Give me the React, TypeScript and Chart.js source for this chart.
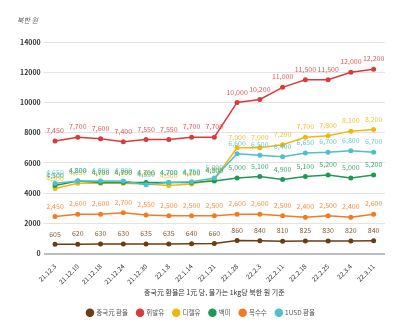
import React, { useEffect, useRef } from "react";
import { Chart, registerables } from "chart.js";

Chart.register(...registerables);

const categories = ["21.12.3", "21.12.10", "21.12.18", "21.12.24", "21.12.30", "22.1.8", "22.1.14", "22.1.21", "22.1.28", "22.2.3", "22.2.11", "22.2.18", "22.2.25", "22.3.4", "22.3.11"];
const yuanRate = [605, 620, 630, 630, 635, 635, 640, 660, 860, 840, 810, 825, 830, 820, 840];
const gasoline = [7450, 7700, 7600, 7400, 7550, 7550, 7700, 7700, 10000, 10200, 11000, 11500, 11500, 12000, 12200];
const diesel = [4300, 4650, 4650, 4650, 4600, 4500, 4600, 4900, 7000, 7000, 7200, 7700, 7800, 8100, 8200];
const rice = [4500, 4800, 4700, 4700, 4700, 4700, 4700, 4800, 5000, 5100, 4900, 5100, 5200, 5000, 5200];
const corn = [2450, 2600, 2600, 2700, 2550, 2500, 2500, 2500, 2600, 2600, 2500, 2400, 2500, 2400, 2600];
const usdRate = [4650, 4800, 4800, 4800, 4550, 4700, 4750, 5000, 6600, 6500, 6400, 6650, 6700, 6800, 6700];
const yTicks = [0, 2000, 4000, 6000, 8000, 10000, 12000, 14000];

const FONT = "'Noto Sans CJK KR', 'Noto Sans', sans-serif";

const seriesDefs = [
  { label: "중국元 환율", data: yuanRate, color: "#6b3d12" },
  { label: "휘발유", data: gasoline, color: "#d93a3a" },
  { label: "디젤유", data: diesel, color: "#f2b70f" },
  { label: "백미", data: rice, color: "#1e9a55" },
  { label: "옥수수", data: corn, color: "#f47b20" },
  { label: "1USD 환율", data: usdRate, color: "#4cc0cc" },
];

const labelPlugin = {
  id: "valueLabels",
  afterDatasetsDraw(chart: any) {
    const ctx = chart.ctx;
    ctx.save();
    ctx.font = `7px ${FONT}`;
    ctx.textAlign = "center";
    ctx.textBaseline = "bottom";
    chart.data.datasets.forEach((ds: any, i: number) => {
      const meta = chart.getDatasetMeta(i);
      if (meta.hidden) return;
      ctx.fillStyle = ds.borderColor;
      ctx.globalAlpha = 0.85;
      meta.data.forEach((pt: any, j: number) => {
        const v = ds.data[j];
        ctx.fillText(v.toLocaleString("en-US"), pt.x, pt.y - 7);
      });
    });
    ctx.restore();
    ctx.save();
    ctx.font = `italic 7px ${FONT}`;
    ctx.fillStyle = "#666";
    ctx.textAlign = "left";
    ctx.textBaseline = "middle";
    ctx.fillText("북한 원", 9, 12);
    ctx.restore();
  },
};

export default function App() {
  const ref = useRef<HTMLCanvasElement>(null);
  useEffect(() => {
    if (!ref.current) return;
    const chart = new Chart(ref.current, {
      type: "line",
      data: {
        labels: categories,
        datasets: seriesDefs.map((s, i) => ({
          label: s.label,
          data: s.data,
          borderColor: s.color,
          backgroundColor: s.color,
          borderWidth: 1.5,
          pointRadius: 2.5,
          pointHoverRadius: 2.5,
          pointBorderWidth: 0,
          tension: 0,
          order: seriesDefs.length - i,
        })),
      },
      options: {
        responsive: true,
        maintainAspectRatio: false,
        animation: false,
        layout: { padding: { left: 9, right: 7, top: 34, bottom: 0 } },
        plugins: {
          legend: {
            position: "bottom",
            labels: {
              usePointStyle: true,
              pointStyle: "circle",
              boxWidth: 6,
              boxHeight: 6,
              padding: 9,
              color: "#555",
              font: { family: FONT, size: 6.5 },
              sort: (a: any, b: any) => a.datasetIndex - b.datasetIndex,
            },
          },
          tooltip: { enabled: false },
        },
        scales: {
          x: {
            offset: true,
            grid: { display: false },
            border: { display: false },
            afterFit: (scale: any) => {
              scale.height = 47;
            },
            ticks: {
              maxRotation: 45,
              minRotation: 45,
              autoSkip: false,
              color: "#333",
              font: { family: FONT, size: 6.5 },
              padding: 1,
            },
            title: {
              display: true,
              text: "중국元 환율은 1元 당, 물가는 1kg당 북한 원 기준",
              color: "#333",
              font: { family: FONT, size: 7 },
              padding: { top: 0, bottom: 4 },
            },
          },
          y: {
            min: 0,
            max: 14000,
            afterBuildTicks: (axis: any) => {
              axis.ticks = yTicks.map((v) => ({ value: v }));
            },
            border: { display: false },
            grid: {
              drawTicks: false,
              color: (c: any) => (c.tick && c.tick.value === 0 ? "#bdbdbd" : "#e3e3e3"),
              lineWidth: (c: any) => (c.tick && c.tick.value === 0 ? 2 : 1),
            },
            ticks: {
              color: "#333",
              padding: 3,
              font: { family: FONT, size: 7, weight: "bold" },
              callback: (v: any) => String(v),
            },
          },
        },
      },
      plugins: [labelPlugin],
    });
    return () => chart.destroy();
  }, []);
  return (
    <div style={{ width: 384, height: 318, position: "relative" }}>
      <canvas ref={ref} />
    </div>
  );
}
